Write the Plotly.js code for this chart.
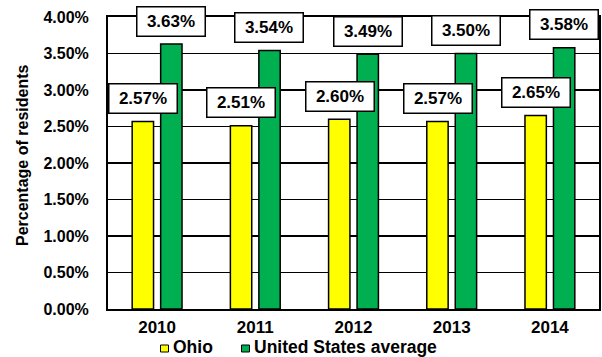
<!DOCTYPE html>
<html>
<head>
<meta charset="utf-8">
<script src="https://cdn.plot.ly/plotly-3.0.1.min.js"></script>
<style>
html,body{margin:0;padding:0;background:#fff;}
#chart{width:602px;height:357px;}
</style>
</head>
<body>
<div id="chart"></div>
<script>
const years = ['2010', '2011', '2012', '2013', '2014'];
const ohio = [2.57, 2.51, 2.60, 2.57, 2.65];
const usAvg = [3.63, 3.54, 3.49, 3.50, 3.58];
const seriesNames = ['Ohio', 'United States average'];
const seriesColors = ['#FFFF00', '#00B050'];
const yTicks = [0, 0.5, 1, 1.5, 2, 2.5, 3, 3.5, 4];
const yTitle = 'Percentage of residents';

const FONT = 'Liberation Sans, Arial, sans-serif';
const W = 602, H = 357, ML = 108, MR = 3, MT = 17, MB = 48;
const PW = W - ML - MR, PH = H - MT - MB;
const px = x => (x - ML) / PW;          // page px -> paper x
const py = y => (H - MB - y) / PH;      // page px -> paper y

const traces = [ohio, usAvg].map((vals, k) => ({
  type: 'bar', name: seriesNames[k], x: years, y: vals,
  marker: {color: seriesColors[k], line: {color: '#000', width: 1.5}},
  hoverinfo: 'skip', showlegend: false
}));

// category axis: annotation x given as category serial number
function makeLabels(vals, shift) {
  return vals.map((v, i) => ({
    x: i, y: v, xref: 'x', yref: 'y',
    text: v.toFixed(2) + '%',
    showarrow: false, xshift: shift, yshift: 23,
    yanchor: 'middle', xanchor: 'center',
    width: 63, height: 24, borderpad: 2,
    bgcolor: '#fff', bordercolor: '#000', borderwidth: 1.5,
    font: {family: FONT, size: 17, color: '#000', weight: 'bold'}
  }));
}

// legend drawn as keys + text below the axis
const legendKeyX = [164.5, 245.5];
const legendTextX = [171, 252];
const legendY = 348.5;
const legendShapes = seriesNames.map((n, k) => ({
  type: 'rect', xref: 'paper', yref: 'paper',
  x0: px(legendKeyX[k] - 4), x1: px(legendKeyX[k] + 4),
  y0: py(legendY + 3.5), y1: py(legendY - 3.5),
  fillcolor: seriesColors[k], line: {color: '#000', width: 1}
}));
const legendTexts = seriesNames.map((n, k) => ({
  xref: 'paper', yref: 'paper', x: px(legendTextX[k]), y: py(legendY - 1.5),
  xanchor: 'left', yanchor: 'middle', showarrow: false, text: n,
  font: {family: FONT, size: 17.5, weight: 'bold', color: '#000'}
}));
const titleAnn = {
  xref: 'paper', yref: 'paper', x: px(22), y: py(155),
  xanchor: 'center', yanchor: 'middle', textangle: -90, showarrow: false,
  text: yTitle, font: {family: FONT, size: 16, weight: 'bold', color: '#000'}
};

const layout = {
  width: W, height: H,
  margin: {l: ML, r: MR, t: MT, b: MB},
  paper_bgcolor: '#fff', plot_bgcolor: '#fff',
  font: {family: FONT, color: '#000'},
  barmode: 'group', bargap: 0.42, bargroupgap: 0.25,
  showlegend: false,
  xaxis: {
    type: 'category', range: [-0.5, years.length - 0.5], automargin: false,
    showline: true, linecolor: '#000', linewidth: 2, mirror: true,
    showgrid: false, ticks: '', ticklabelstandoff: 2,
    tickfont: {family: FONT, size: 17, weight: 'bold', color: '#000'},
    fixedrange: true
  },
  yaxis: {
    range: [0, 4], tickvals: yTicks, automargin: false,
    ticktext: yTicks.map(v => v.toFixed(2) + '%'),
    showline: true, linecolor: '#000', linewidth: 2, mirror: true,
    showgrid: true, gridcolor: '#000', gridwidth: 1.5,
    zeroline: false, ticks: '', ticklabelstandoff: 14,
    tickfont: {family: FONT, size: 16, weight: 'bold', color: '#000'},
    fixedrange: true
  },
  shapes: legendShapes,
  annotations: makeLabels(ohio, -14).concat(makeLabels(usAvg, 14), legendTexts, [titleAnn])
};

Plotly.newPlot('chart', traces, layout, {displayModeBar: false, staticPlot: true});
</script>
</body>
</html>
